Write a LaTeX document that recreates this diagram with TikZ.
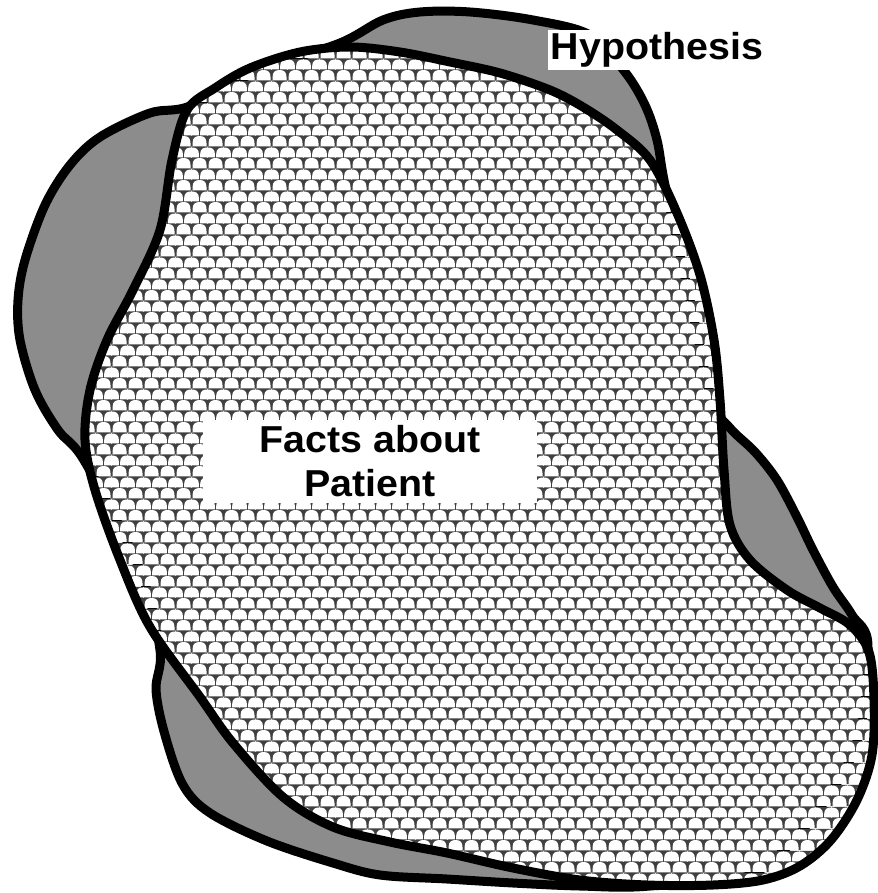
\documentclass[tikz,border=0pt]{standalone}
\usepackage{fontspec}
\newfontfamily\labelfont[FakeStretch=1.05]{Liberation Sans}
\usetikzlibrary{patterns.meta}

% one scale of the facts fill, flat at the bottom
\newcommand\scaleshape{(-7.4pt,0pt) -- (-7.4pt,3pt) .. controls (-7.4pt,9pt) and (-4pt,10.4pt) .. (0pt,10.4pt)
  .. controls (4pt,10.4pt) and (7.4pt,9pt) .. (7.4pt,3pt) -- (7.4pt,0pt) -- cycle}

% fish-scale fill for the facts
\tikzdeclarepattern{
  name=scales,
  type=colored,
  bounding box={(0pt,0pt) and (16pt,22pt)},
  tile size={(16pt,22pt)},
  code={
    \fill[black!75] (0pt,0pt) rectangle (16pt,22pt);
    \fill[white,xshift=8pt] \scaleshape;
    \fill[white,yshift=11pt] \scaleshape;
    \fill[white,xshift=16pt,yshift=11pt] \scaleshape;
    \fill[white,yshift=-11pt] \scaleshape;
    \fill[white,xshift=16pt,yshift=-11pt] \scaleshape;
  }
}

\begin{document}
\begin{tikzpicture}[x=1pt,y=-1pt,
    outline/.style={line width=9pt,line join=round},
    hypo/.style={outline,fill=black!45},
    facts/.style={outline,pattern=scales},
    tag/.style={fill=white,inner sep=3pt,align=center,font=\labelfont\bfseries\fontsize{37.5}{44}\selectfont}]
    \useasboundingbox (0,0) rectangle (877,893);
    \draw[hypo] plot[smooth cycle,tension=.55] coordinates {
        (340,43) (383,20) (420,12) (470,12) (533,20) (590,35) (625,72) (645,105)
        (657,140) (665,185) (690,300) (712,400) (730,428) (755,452) (777,480)
        (797,517) (813,550) (833,587) (852,615) (868,648) (850,760) (760,870)
        (650,886) (580,886) (513,883) (447,879) (380,875) (333,863) (267,841)
        (210,813) (183,785) (165,735) (156,690) (160,650) (140,570) (85,462)
        (58,430) (35,390) (20,340) (18,300) (25,260) (45,205) (70,165) (100,137)
        (150,113) (190,106) (260,70)};
    \draw[facts] plot[smooth cycle,tension=.55] coordinates {
        (187,110) (215,88) (250,68) (300,52) (350,47) (400,52) (450,62) (500,73)
        (550,90) (583,107) (617,130) (650,160) (677,213) (700,275) (714,340)
        (720,400) (724,470) (730,525) (750,560) (787,590) (820,608) (850,625)
        (869,652) (874,700) (872,755) (857,800) (831,840) (800,866) (763,880)
        (713,885) (647,885) (580,880) (513,868) (447,853) (390,842) (333,827)
        (283,797) (233,743) (200,697) (150,627) (120,560) (95,490) (85,440)
        (90,390) (107,340) (133,290) (160,230) (172,160)};
    \node[tag] (hypothesis) at (657,50) {Hypothesis};
    \node[tag,minimum width=334pt,minimum height=83pt] (facts) at (370,461) {Facts about\\Patient};
\end{tikzpicture}
\end{document}
